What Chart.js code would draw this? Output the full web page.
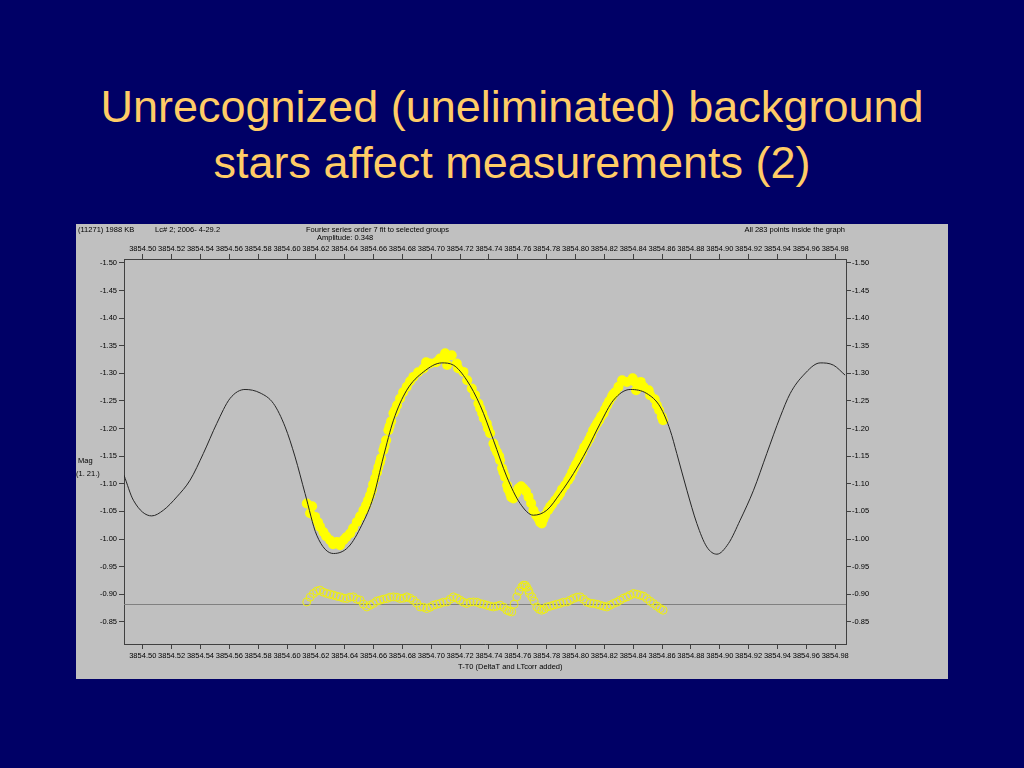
<!DOCTYPE html>
<html>
<head>
<meta charset="utf-8">
<script src="https://cdn.jsdelivr.net/npm/chart.js@4.4.0/dist/chart.umd.min.js"></script>
<style>
    html, body { margin: 0; padding: 0; }
    body { width: 1024px; height: 768px; background: #000066; position: relative; overflow: hidden; font-family: "Liberation Sans", Arial, sans-serif; }
    .title { position: absolute; left: 0; width: 1024px; text-align: center; color: #ffcc66; font-size: 45px; line-height: 56px; }
    #panel { position: absolute; left: 76px; top: 224px; width: 872px; height: 455px; background: #c0c0c0; }
</style>
</head>
<body>
<div class="title" style="top: 79px;">Unrecognized (uneliminated) background<br>stars affect measurements (2)</div>
<div id="panel"><canvas id="lc-chart" width="872" height="455"></canvas></div>

<script>
// axis ranges
var xMin = 3854.487, xMax = 3854.9875;
var yMin = -1.507, yMax = -0.810;
var zeroLevel = -0.8815;

// Fourier fit (order 7)
var fitT = [3854.4870, 3854.4935, 3854.5062, 3854.5143, 3854.5236, 3854.5328, 3854.5420, 3854.5513,
    3854.5605, 3854.5709, 3854.5813, 3854.5906, 3854.5987, 3854.6056, 3854.6125, 3854.6206,
    3854.6322, 3854.6426, 3854.6518, 3854.6599, 3854.6668, 3854.6738, 3854.6830, 3854.6946,
    3854.7073, 3854.7154, 3854.7246, 3854.7339, 3854.7431, 3854.7524, 3854.7616, 3854.7708,
    3854.7801, 3854.7893, 3854.7986, 3854.8078, 3854.8171, 3854.8263, 3854.8379, 3854.8494,
    3854.8587, 3854.8656, 3854.8702, 3854.8772, 3854.8841, 3854.8910, 3854.8980, 3854.9060,
    3854.9141, 3854.9234, 3854.9326, 3854.9419, 3854.9488, 3854.9580, 3854.9696, 3854.9788, 3854.9869];
var fitMag = [-1.1156, -1.0703, -1.0419, -1.0522, -1.0763, -1.1066, -1.1549, -1.2092,
    -1.2545, -1.2708, -1.2646, -1.2454, -1.2031, -1.1487, -1.0825, -1.0070,
    -0.9738, -0.9858, -1.0251, -1.0763, -1.1487, -1.2152, -1.2695, -1.3026,
    -1.3189, -1.3148, -1.2876, -1.2420, -1.1790, -1.1125, -1.0644, -1.0432,
    -1.0522, -1.0825, -1.1187, -1.1609, -1.2092, -1.2514, -1.2708, -1.2635,
    -1.2393, -1.1971, -1.1549, -1.0884, -1.0282, -0.9858, -0.9726, -0.9919,
    -1.0341, -1.0884, -1.1549, -1.2212, -1.2635, -1.2967, -1.3189, -1.3148, -1.2967];

// observed magnitudes (filled yellow)
var obsT = [3854.6137, 3854.6160, 3854.6195, 3854.6229, 3854.6252, 3854.6299, 3854.6345, 3854.6391,
    3854.6437, 3854.6484, 3854.6530, 3854.6562, 3854.6588, 3854.6611, 3854.6634, 3854.6652,
    3854.6668, 3854.6687, 3854.6703, 3854.6722, 3854.6738, 3854.6763, 3854.6784, 3854.6830,
    3854.6876, 3854.6946, 3854.6992, 3854.7034, 3854.7061, 3854.7103, 3854.7110, 3854.7142,
    3854.7177, 3854.7223, 3854.7281, 3854.7304, 3854.7327, 3854.7353, 3854.7385, 3854.7408,
    3854.7431, 3854.7456, 3854.7477, 3854.7491, 3854.7512, 3854.7526, 3854.7547, 3854.7569,
    3854.7604, 3854.7639, 3854.7674, 3854.7708, 3854.7743, 3854.7766, 3854.7789, 3854.7824,
    3854.7859, 3854.7893, 3854.7928, 3854.7963, 3854.7990, 3854.8020, 3854.8046, 3854.8078,
    3854.8108, 3854.8136, 3854.8164, 3854.8194, 3854.8219, 3854.8252, 3854.8275, 3854.8298,
    3854.8356, 3854.8413, 3854.8471, 3854.8517, 3854.8564, 3854.8598,
    3854.6174, 3854.6215, 3854.6271, 3854.6319, 3854.6368, 3854.6410, 3854.6458, 3854.6507,
    3854.6548, 3854.6576, 3854.6597, 3854.6624, 3854.6645, 3854.6676, 3854.6711, 3854.6749,
    3854.6805, 3854.6853, 3854.6909, 3854.6964, 3854.7096, 3854.7186, 3854.7249, 3854.7339,
    3854.7364, 3854.7393, 3854.7443, 3854.7471, 3854.7500, 3854.7533, 3854.7555, 3854.7588,
    3854.7623, 3854.7656, 3854.7692, 3854.7727, 3854.7755, 3854.7777, 3854.7810, 3854.7838,
    3854.7880, 3854.7907, 3854.7949, 3854.7977, 3854.8004, 3854.8032, 3854.8060, 3854.8095,
    3854.8122, 3854.8150, 3854.8178, 3854.8205, 3854.8233, 3854.8261, 3854.8323, 3854.8396,
    3854.8420, 3854.8452, 3854.8507, 3854.8549, 3854.8580, 3854.8607];
var obsMag = [-1.0644, -1.0468, -1.0401, -1.0220, -1.0129, -0.9979, -0.9948, -0.9979,
    -1.0100, -1.0310, -1.0522, -1.0703, -1.0884, -1.1102, -1.1306, -1.1464,
    -1.1609, -1.1790, -1.1971, -1.2134, -1.2279, -1.2423, -1.2545, -1.2755,
    -1.2936, -1.3088, -1.3179, -1.3200, -1.3269, -1.3300, -1.3150, -1.3329,
    -1.3179, -1.3026, -1.2726, -1.2605, -1.2454, -1.2279, -1.2092, -1.1916,
    -1.1730, -1.1572, -1.1428, -1.1283, -1.1125, -1.0975, -1.0825, -1.0734,
    -1.0915, -1.0915, -1.0763, -1.0522, -1.0372, -1.0281, -1.0432, -1.0582,
    -1.0703, -1.0825, -1.0975, -1.1125, -1.1283, -1.1428, -1.1572, -1.1730,
    -1.1880, -1.2031, -1.2152, -1.2273, -1.2423, -1.2574, -1.2659, -1.2755,
    -1.2845, -1.2845, -1.2755, -1.2605, -1.2423, -1.2212,
    -1.0595, -1.0305, -1.0052, -0.9907, -0.9889, -1.0033, -1.0196, -1.0414,
    -1.0613, -1.0794, -1.0993, -1.1210, -1.1391, -1.1681, -1.2043, -1.2333,
    -1.2659, -1.2858, -1.3021, -1.3202, -1.3365, -1.3093, -1.2876, -1.2369,
    -1.2188, -1.2007, -1.1645, -1.1500, -1.1210, -1.0903, -1.0758, -1.0830,
    -1.0957, -1.0866, -1.0649, -1.0432, -1.0305, -1.0359, -1.0522, -1.0631,
    -1.0776, -1.0903, -1.1066, -1.1210, -1.1355, -1.1500, -1.1663, -1.1808,
    -1.1971, -1.2098, -1.2224, -1.2351, -1.2496, -1.2623, -1.2876, -1.2912,
    -1.2695, -1.2845, -1.2695, -1.2532, -1.2333, -1.2152];

// residuals (open yellow circles)
var resT = [3854.6137, 3854.6183, 3854.6229, 3854.6276, 3854.6322, 3854.6368, 3854.6414, 3854.6460,
    3854.6507, 3854.6553, 3854.6599, 3854.6645, 3854.6692, 3854.6738, 3854.6784, 3854.6830,
    3854.6876, 3854.6923, 3854.6969, 3854.7015, 3854.7061, 3854.7108, 3854.7154, 3854.7200,
    3854.7246, 3854.7292, 3854.7339, 3854.7385, 3854.7431, 3854.7477, 3854.7524, 3854.7558,
    3854.7593, 3854.7628, 3854.7651, 3854.7674, 3854.7697, 3854.7732, 3854.7766, 3854.7801,
    3854.7847, 3854.7893, 3854.7940, 3854.7986, 3854.8032, 3854.8078, 3854.8124, 3854.8171,
    3854.8217, 3854.8263, 3854.8309, 3854.8356, 3854.8402, 3854.8449, 3854.8494, 3854.8540, 3854.8587,
    3854.6160, 3854.6206, 3854.6252, 3854.6299, 3854.6345, 3854.6391, 3854.6437, 3854.6484,
    3854.6530, 3854.6576, 3854.6622, 3854.6668, 3854.6715, 3854.6761, 3854.6807, 3854.6853,
    3854.6900, 3854.6946, 3854.6992, 3854.7038, 3854.7084, 3854.7131, 3854.7177, 3854.7223,
    3854.7269, 3854.7316, 3854.7362, 3854.7408, 3854.7455, 3854.7501, 3854.7539, 3854.7574,
    3854.7609, 3854.7639, 3854.7662, 3854.7680, 3854.7713, 3854.7748, 3854.7783, 3854.7824,
    3854.7870, 3854.7916, 3854.7963, 3854.8009, 3854.8055, 3854.8101, 3854.8148, 3854.8194,
    3854.8240, 3854.8286, 3854.8332, 3854.8379, 3854.8425, 3854.8471, 3854.8517, 3854.8564, 3854.8607];
var resMag = [-0.8862, -0.9014, -0.9074, -0.9014, -0.8983, -0.8953, -0.8924, -0.8953,
    -0.8893, -0.8771, -0.8833, -0.8893, -0.8924, -0.8953, -0.8924, -0.8953,
    -0.8893, -0.8771, -0.8742, -0.8802, -0.8833, -0.8862, -0.8953, -0.8893,
    -0.8833, -0.8862, -0.8833, -0.8802, -0.8771, -0.8802, -0.8712, -0.8681,
    -0.8953, -0.9134, -0.9164, -0.9074, -0.8953, -0.8771, -0.8712, -0.8771,
    -0.8802, -0.8833, -0.8862, -0.8924, -0.8953, -0.8862, -0.8833, -0.8802,
    -0.8771, -0.8833, -0.8893, -0.8953, -0.9014, -0.8983, -0.8924, -0.8833, -0.8742,
    -0.8947, -0.9056, -0.9038, -0.9001, -0.8965, -0.8929, -0.8947, -0.8911,
    -0.8820, -0.8802, -0.8875, -0.8911, -0.8947, -0.8947, -0.8929, -0.8929,
    -0.8839, -0.8766, -0.8766, -0.8820, -0.8857, -0.8911, -0.8929, -0.8857,
    -0.8857, -0.8857, -0.8820, -0.8784, -0.8784, -0.8766, -0.8694, -0.8820,
    -0.9056, -0.9164, -0.9128, -0.9020, -0.8875, -0.8730, -0.8730, -0.8784,
    -0.8820, -0.8857, -0.8893, -0.8947, -0.8911, -0.8839, -0.8820, -0.8784,
    -0.8802, -0.8857, -0.8929, -0.8983, -0.9001, -0.8965, -0.8875, -0.8784, -0.8712];

function toPoints(xs, ys) {
    var pts = [];
    for (var i = 0; i < xs.length; i++) {
        pts.push({ x: xs[i], y: ys[i] });
    }
    return pts;
}

var tickFont = { family: '"Liberation Sans", Arial, sans-serif', size: 7.5 };
var axisColor = '#404040';

function xAxis(pos, pad) {
    return {
        type: 'linear', position: pos, min: xMin, max: xMax,
        border: { display: true, color: axisColor, width: 1 },
        grid: { display: true, drawOnChartArea: false, drawTicks: true, tickLength: 5, color: axisColor },
        ticks: {
            stepSize: 0.02, includeBounds: false, autoSkip: false, maxRotation: 0, minRotation: 0,
            color: '#000', font: tickFont, padding: pad,
            callback: function(v) { return v.toFixed(2); }
        },
        afterFit: function(scale) { scale.height = 35; }
    };
}

function yAxis(pos, w, pad) {
    return {
        type: 'linear', position: pos, min: yMin, max: yMax, reverse: true,
        border: { display: true, color: axisColor, width: 1 },
        grid: { display: true, drawOnChartArea: false, drawTicks: true, tickLength: 5, color: axisColor },
        ticks: {
            stepSize: 0.05, includeBounds: false, color: '#000', font: tickFont, padding: pad,
            callback: function(v) { return v.toFixed(2); }
        },
        afterFit: function(scale) { scale.width = w; }
    };
}

// extra texts of the program window
var panelText = {
    id: 'panelText',
    afterDraw: function(chart) {
        var ctx = chart.ctx;
        ctx.save();
        ctx.fillStyle = '#000';
        ctx.font = '7.5px "Liberation Sans", Arial, sans-serif';
        ctx.textBaseline = 'middle';
        ctx.textAlign = 'left';
        ctx.fillText('(11271) 1988 KB', 2, 6);
        ctx.fillText('Lc# 2; 2006- 4-29.2', 79, 6);
        ctx.fillText('Fourier series order 7 fit to selected groups', 230, 6);
        ctx.fillText('Amplitude: 0.348', 241, 14);
        ctx.fillText('Mag', 2, 237);
        ctx.fillText('(1. 21.)', 0, 250);
        ctx.fillText('T-T0 (DeltaT and LTcorr added)', 382, 443);
        ctx.textAlign = 'right';
        ctx.fillText('All 283 points inside the graph', 769, 6);
        ctx.restore();
    }
};

var ctx = document.getElementById('lc-chart').getContext('2d');
var lcChart = new Chart(ctx, {
    type: 'scatter',
    data: {
        datasets: [{
            label: 'Fit',
            data: toPoints(fitT, fitMag),
            showLine: true,
            borderColor: '#262626',
            borderWidth: 1,
            pointRadius: 0,
            cubicInterpolationMode: 'monotone',
            order: 0
        }, {
            label: 'Observed',
            data: toPoints(obsT, obsMag),
            backgroundColor: '#ffff00',
            borderWidth: 0,
            pointRadius: 5,
            order: 1
        }, {
            label: 'Residuals',
            data: toPoints(resT, resMag),
            backgroundColor: 'rgba(0,0,0,0)',
            borderColor: '#eeee10',
            borderWidth: 1,
            pointRadius: 4,
            order: 2
        }, {
            label: 'Zero',
            data: toPoints([xMin, xMax], [zeroLevel, zeroLevel]),
            showLine: true,
            borderColor: '#808080',
            borderWidth: 1,
            pointRadius: 0,
            order: 3
        }]
    },
    options: {
        responsive: false,
        animation: false,
        layout: { padding: 0 },
        plugins: {
            legend: { display: false },
            tooltip: { enabled: false }
        },
        scales: {
            x: xAxis('bottom', 2),
            x2: xAxis('top', 1),
            y: yAxis('left', 48, 2),
            y2: yAxis('right', 102, 1)
        }
    },
    plugins: [panelText]
});
</script>
</body>
</html>
